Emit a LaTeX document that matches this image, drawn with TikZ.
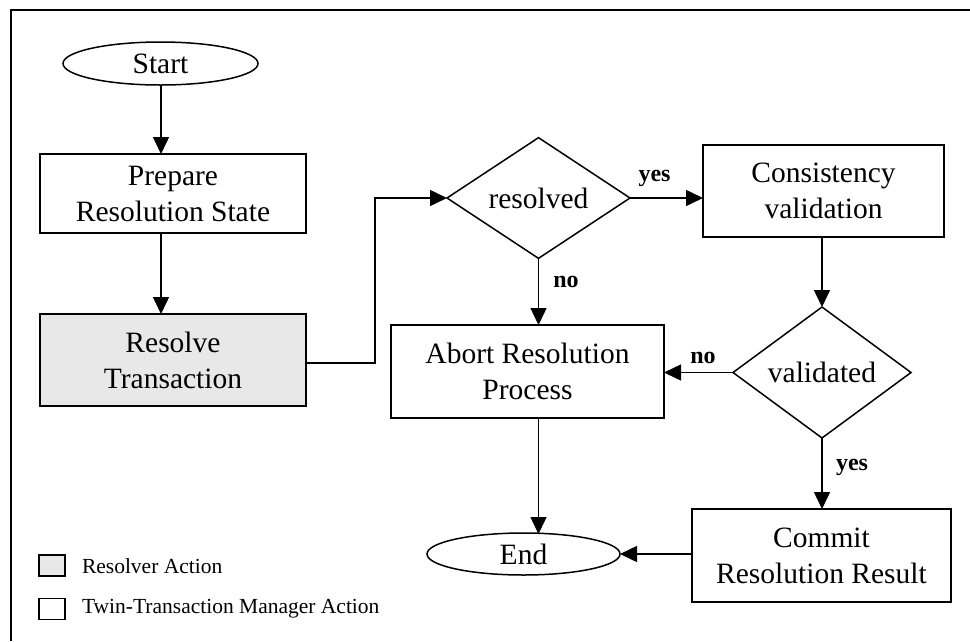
\documentclass[tikz,border=0pt]{standalone}
\usepackage{fontspec}
\setmainfont{Liberation Serif}
\usetikzlibrary{shapes.geometric,arrows.meta}
\begin{document}
\begin{tikzpicture}[x=1pt,y=-1pt,
  every node/.style={inner sep=0pt,outer sep=0pt},
  big/.style={font=\fontsize{29.5}{36}\selectfont},
  procbox/.style={draw,line width=1.5pt,rectangle,align=center,big},
  term/.style={draw,line width=1.5pt,ellipse,big},
  decision/.style={draw,line width=1.5pt,diamond,big},
  lbl/.style={font=\fontsize{24}{28}\selectfont\bfseries},
  leg/.style={font=\fontsize{21.5}{26}\selectfont,anchor=west},
  legbox/.style={draw,line width=1.3pt,minimum width=26pt,minimum height=21pt},
  conn/.style={line width=1.5pt,-{Triangle[length=17pt,width=16pt]}},
  plain/.style={line width=1.5pt}]
\useasboundingbox (0,0) rectangle (970,641);
\draw[line width=2.2pt] (970,10) -- (11,10) -- (11,641);

\node[term,minimum width=195pt,minimum height=43pt] (start) at (160.5,63.5) {Start};
\node[procbox,minimum width=266pt,minimum height=79pt] (prep) at (173,193.5) {Prepare\\Resolution State};
\node[procbox,fill=black!9,minimum width=266pt,minimum height=92pt] (resolve) at (173,360) {Resolve\\Transaction};
\node[decision,minimum width=183pt,minimum height=114pt] (resolved) at (538.5,198) {resolved};
\node[procbox,minimum width=241pt,minimum height=92pt] (cons) at (823.5,191) {Consistency\\validation};
\node[procbox,minimum width=273pt,minimum height=93pt] (abort) at (527.5,371.5) {Abort Resolution\\Process};
\node[decision,minimum width=178pt,minimum height=131pt] (valid) at (822,372.5) {validated};
\node[procbox,minimum width=259pt,minimum height=93pt] (commit) at (821.5,555.5) {Commit\\Resolution Result};
\node[term,minimum width=193pt,minimum height=42pt] (end) at (523.5,554) {End};

\coordinate (k1) at (375,363);
\coordinate (k2) at (538.5,534);
\draw[conn] (start.south -| 161,0) -- (161,154);
\draw[conn] (161,233) -- (161,314);
\draw[conn] (resolve.east |- k1) -- (k1) |- (resolved.west);
\draw[conn] (resolved.east) -- (resolved.east -| cons.west);
\draw[conn] (resolved.south) -- (resolved.south |- abort.north);
\draw[conn] (valid.north |- cons.south) -- (valid.north);
\draw[conn] (valid.west) -- (valid.west -| abort.east);
\draw[conn] (valid.south) -- (valid.south |- commit.north);
\draw[conn] (k2 |- abort.south) -- (k2);
\draw[conn] (end.east -| commit.west) -- (end.east);

\node[lbl] (ly1) at (654.5,178) {yes};
\node[lbl] (ln1) at (566,282) {no};
\node[lbl] (ln2) at (703,358) {no};
\node[lbl] (ly2) at (852,467) {yes};

\node[legbox,fill=black!9] (lg1) at (52,565.5) {};
\node[legbox] (lg2) at (52,609) {};
\node[leg] (lt1) at (82,566) {Resolver Action};
\node[leg] (lt2) at (82,609) {Twin-Transaction Manager Action};
\end{tikzpicture}
\end{document}
